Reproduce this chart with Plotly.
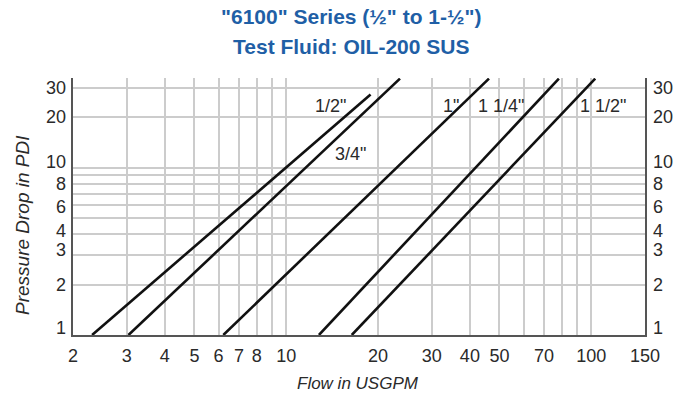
import plotly.graph_objects as go
import math

# ---- data ----
sizes = ['1/2"', '3/4"', '1"', '1 1/4"', '1 1/2"']
flow_start = [2.31, 3.04, 6.22, 12.8, 16.4]      # USGPM at 1 PSI
flow_end = [18.9, 23.6, 46.2, 78.3, 103.0]      # USGPM at end point
pdrop_start = [1, 1, 1, 1, 1]
pdrop_end = [27.4, 34.1, 34.1, 34.1, 34.1]

x_tickvals = [2, 3, 4, 5, 6, 7, 8, 9, 10, 20, 30, 40, 50, 60, 70, 80, 90, 100, 150]
x_ticktext = ['2', '3', '4', '5', '6', '7', '8', '', '10', '20', '30', '40', '50', '', '70', '', '', '100', '150']
y_gridvals = [1, 2, 3, 4, 5, 6, 7, 8, 9, 10, 20, 30]
y_labelvals = [1, 2, 3, 4, 6, 8, 10, 20, 30]
y_labeltext = ['1', '2', '3', '4', '6', '8', '10', '20', '30']
# small vertical nudges (px) the reference uses to keep crowded labels apart
y_label_nudge = [7, 0, 5, 3, -2, 0, 6, 0, 0]

# label anchor positions (flow, pressure)
label_pos = [(14.0, 23.5), (16.2, 12.1), (34.6, 23.5), (50.5, 23.5), (109.6, 23.5)]

FONT = "Liberation Sans, Arial, sans-serif"
TXT = "#2a2a2a"
BLUE = "#1f5fa6"
GRID = "#cccccc"
AXIS = "#555555"

L, R, T, B = 73, 39, 78, 62
W, H = 684, 397

fig = go.Figure()
for i, s in enumerate(sizes):
    fig.add_trace(go.Scatter(
        x=[flow_start[i], flow_end[i]], y=[pdrop_start[i], pdrop_end[i]],
        mode="lines", line=dict(color="#111111", width=2.6),
        name=s, showlegend=False, hoverinfo="skip"))

# invisible trace for the right axis
fig.add_trace(go.Scatter(x=[2], y=[1], yaxis="y2", mode="markers",
                         marker=dict(opacity=0), showlegend=False, hoverinfo="skip"))

yrange = [0, math.log10(34.4)]
common_y = dict(type="log", range=yrange, tickmode="array", tickvals=y_gridvals,
                showticklabels=False,
                showline=True, linecolor=AXIS, linewidth=1.5, ticks="", zeroline=False)

fig.update_layout(
    width=W, height=H,
    margin=dict(l=L, r=R, t=T, b=B, autoexpand=False),
    paper_bgcolor="white", plot_bgcolor="white",
    xaxis=dict(type="log", range=[math.log10(2), math.log10(150)], tickmode="array",
               tickvals=x_tickvals, ticktext=x_ticktext,
               tickfont=dict(family=FONT, size=18, color=TXT),
               showgrid=True, gridcolor=GRID, gridwidth=1.5,
               showline=True, linecolor=AXIS, linewidth=1.5, ticks="",
               ticklabelstandoff=4, zeroline=False),
    yaxis=dict(**common_y, side="left", showgrid=True, gridcolor=GRID, gridwidth=1.5),
    yaxis2=dict(**common_y, side="right", overlaying="y", showgrid=False),
    showlegend=False,
)

pw = W - L - R
ph = H - T - B
def px(xp):
    return (xp - L) / pw
def py_(yp):
    return (H - B - yp) / ph

# y tick labels on both sides
for v, t, n in zip(y_labelvals, y_labeltext, y_label_nudge):
    fig.add_annotation(x=0, y=math.log10(v), xref="paper", yref="y", text=t,
                       showarrow=False, xanchor="right", yanchor="middle",
                       xshift=-5, yshift=n, font=dict(family=FONT, size=18, color=TXT))
    fig.add_annotation(x=1, y=math.log10(v), xref="paper", yref="y", text=t,
                       showarrow=False, xanchor="left", yanchor="middle",
                       xshift=6, yshift=n, font=dict(family=FONT, size=18, color=TXT))

# line labels
for s, (fx, p) in zip(sizes, label_pos):
    fig.add_annotation(x=math.log10(fx), y=math.log10(p), xref="x", yref="y",
                       text=s, showarrow=False,
                       font=dict(family=FONT, size=18, color=TXT))

# title
fig.add_annotation(x=px(351), y=py_(17), xref="paper", yref="paper",
                   text='<b>"6100" Series (½" to 1-½")</b>', showarrow=False,
                   font=dict(family=FONT, size=21, color=BLUE), xanchor="center", yanchor="middle")
fig.add_annotation(x=px(351), y=py_(46), xref="paper", yref="paper",
                   text='<b>Test Fluid: OIL-200 SUS</b>', showarrow=False,
                   font=dict(family=FONT, size=21, color=BLUE), xanchor="center", yanchor="middle")

# axis titles
fig.add_annotation(x=px(22), y=py_(225), xref="paper", yref="paper",
                   text="<i>Pressure Drop in PDI</i>", showarrow=False, textangle=-90,
                   font=dict(family=FONT, size=19, color=TXT), xanchor="center", yanchor="middle")
fig.add_annotation(x=px(358), y=py_(383), xref="paper", yref="paper",
                   text="<i>Flow in USGPM</i>", showarrow=False,
                   font=dict(family=FONT, size=17, color=TXT), xanchor="center", yanchor="middle")

fig.write_html("out.html", config={"displayModeBar": False},
               post_script="document.body.style.margin='0';document.body.style.padding='0';")
